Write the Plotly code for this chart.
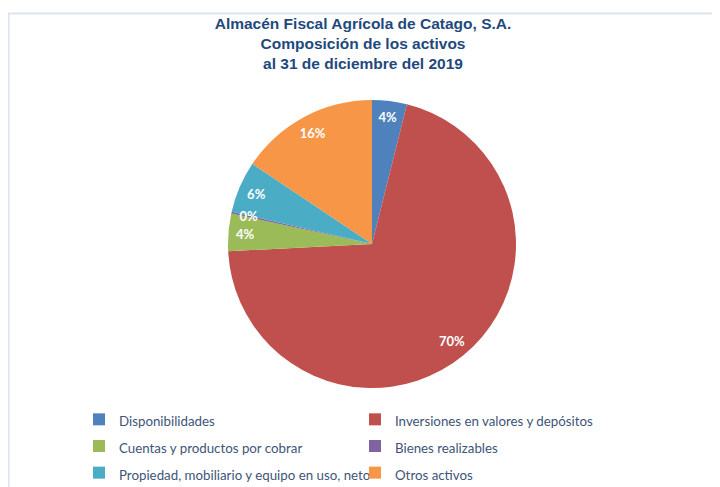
import plotly.graph_objects as go

categorias = [
    "Disponibilidades",
    "Inversiones en valores y depósitos",
    "Cuentas y productos por cobrar",
    "Bienes realizables",
    "Propiedad, mobiliario y equipo en uso, neto",
    "Otros activos",
]
porcentajes = [3.9, 70.3, 4.2, 0.2, 5.8, 15.6]
colores = ["#4F81BD", "#C0504D", "#9BBB59", "#8064A2", "#4BACC6", "#F79646"]

titulo = ("Almacén Fiscal Agrícola de Catago, S.A.<br>"
          "Composición de los activos<br>al 31 de diciembre del 2019")

W, H = 720, 487
# figure coordinates (the page itself adds an 8px body margin)
cx, cy, R = 364, 236, 144


def dominio(r):
    return dict(x=[(cx - r) / W, (cx + r) / W], y=[1 - (cy + r) / H, 1 - (cy - r) / H])


fmt = "%{percent:.0%}"
minimo = min(porcentajes)
tt_anillo = ["" if v == minimo else fmt for v in porcentajes]
tt_min = [fmt if v == minimo else "" for v in porcentajes]
fuente_txt = dict(family="Lato", size=13, color="white", weight="bold")
transparente = ["rgba(0,0,0,0)"] * len(categorias)
nombres = ["<span style='font-size:13.3px'>%s</span>" % c for c in categorias]

fig = go.Figure()
# slices
fig.add_trace(go.Pie(
    labels=nombres, values=porcentajes, sort=False, direction="clockwise",
    rotation=0, marker=dict(colors=colores, line=dict(width=0)),
    textinfo="none", domain=dominio(R), hoverinfo="label+percent",
))
# percentage labels placed in an outer ring (Excel-like label radius)
fig.add_trace(go.Pie(
    labels=nombres, values=porcentajes, sort=False, direction="clockwise",
    rotation=0, hole=0.75, showlegend=False,
    marker=dict(colors=transparente, line=dict(width=0)),
    texttemplate=tt_anillo, textposition="inside",
    insidetextorientation="horizontal", textfont=fuente_txt,
    domain=dominio(R), hoverinfo="skip",
))
# label of the very thin slice
fig.add_trace(go.Pie(
    labels=nombres, values=porcentajes, sort=False, direction="clockwise",
    rotation=0, showlegend=False,
    marker=dict(colors=transparente, line=dict(width=0)),
    texttemplate=tt_min, textposition="inside",
    insidetextorientation="horizontal", textfont=fuente_txt,
    domain=dominio(127), hoverinfo="skip",
))

fig.update_layout(
    width=W, height=H,
    margin=dict(l=0, r=0, t=0, b=0, autoexpand=False),
    paper_bgcolor="white", plot_bgcolor="white",
    title=dict(text=titulo, x=355 / W, xanchor="center", y=1 - 21 / H, yanchor="top",
               font=dict(family="Liberation Sans", size=15.5, color="#1F497D", weight="bold")),
    uniformtext=dict(minsize=13, mode="show"),
    legend=dict(orientation="h", x=71 / W, xanchor="left", y=1 - 393 / H, yanchor="top",
                entrywidth=231, itemwidth=30,
                font=dict(family="Lato", size=18.2, color="#3E5578")),
    shapes=[dict(type="rect", xref="paper", yref="paper", layer="below",
                 x0=0.5 / W, x1=1.05, y0=-0.05, y1=1 - 5.5 / H,
                 line=dict(color="#DCE4EF", width=2))],
)

fig.write_html("out.html")
